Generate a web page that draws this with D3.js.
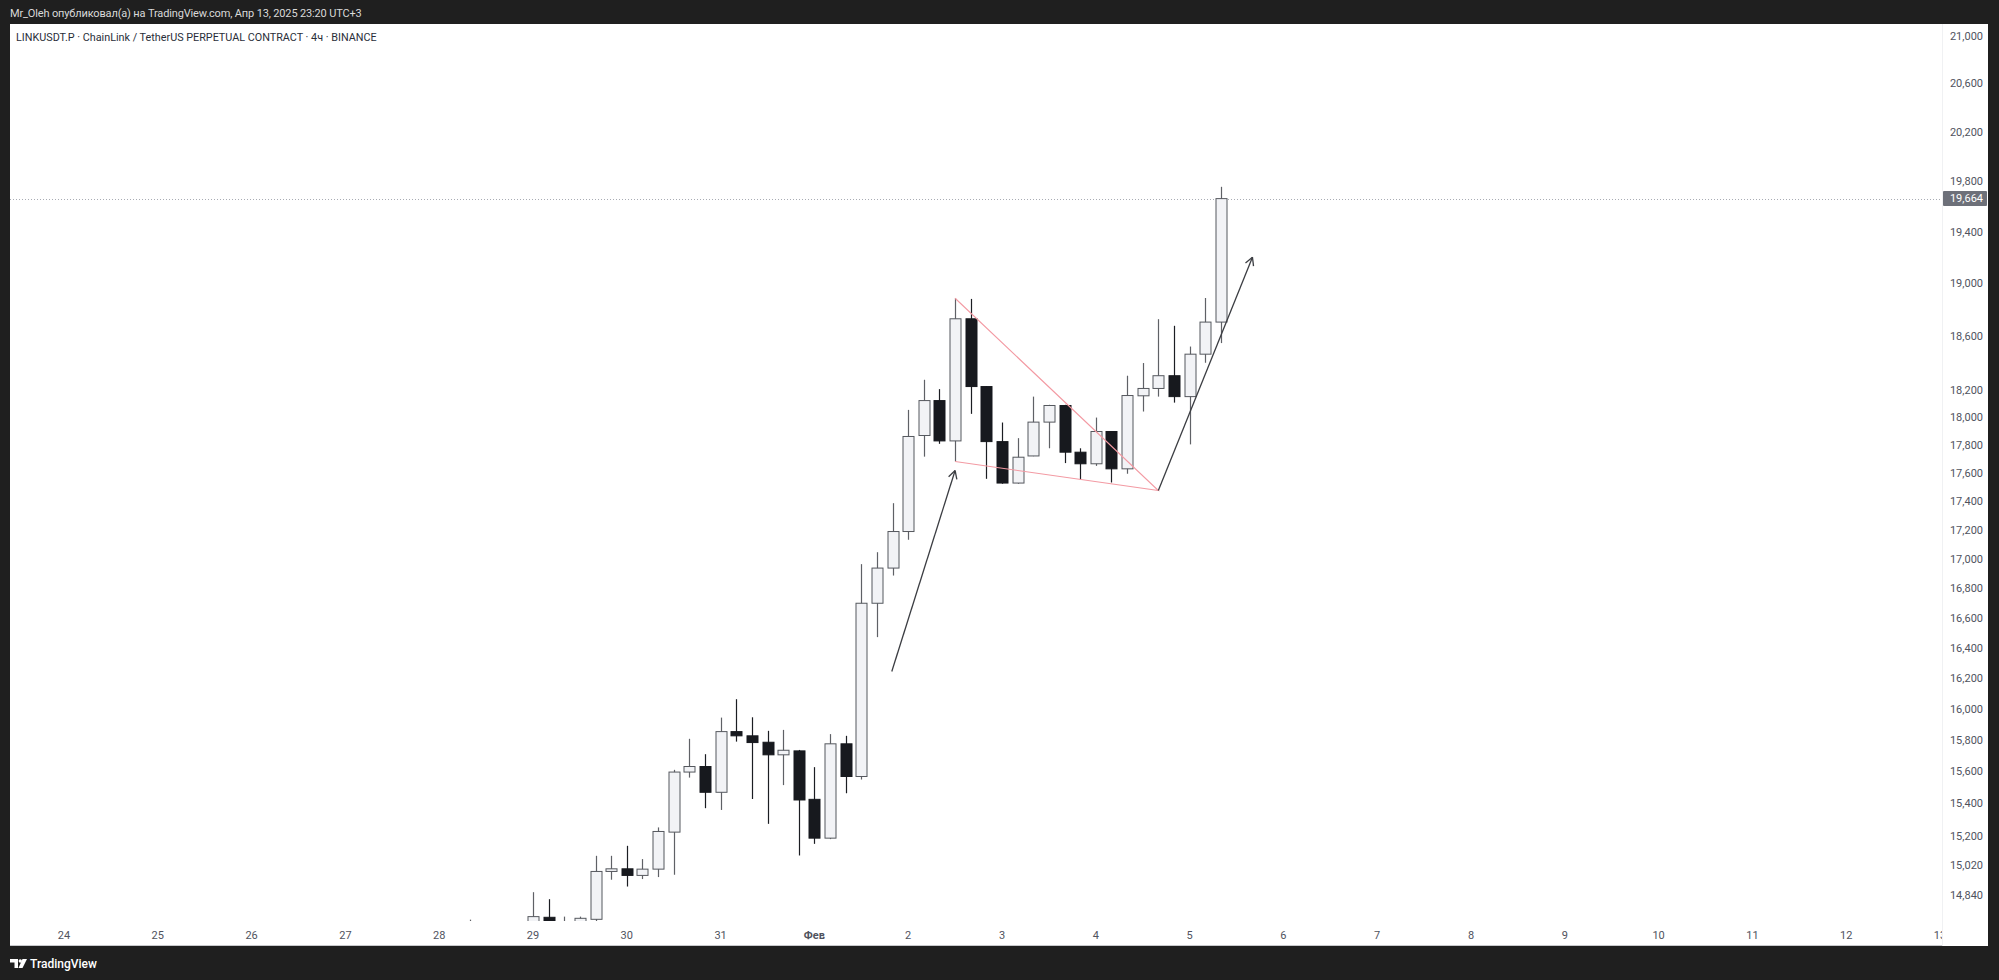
<!DOCTYPE html>
<html><head><meta charset="utf-8">
<script src="https://cdnjs.cloudflare.com/ajax/libs/d3/7.8.5/d3.min.js"></script>
<style>body{margin:0;background:#1f1f1f;} svg{display:block}</style>
</head><body><svg id="c" width="1999" height="980"></svg>
<script>
// ---------- data ----------
const candleTimes = [
 "2025-01-28T00:00","2025-01-28T04:00","2025-01-28T08:00","2025-01-28T12:00","2025-01-28T16:00","2025-01-28T20:00",
 "2025-01-29T00:00","2025-01-29T04:00","2025-01-29T08:00","2025-01-29T12:00","2025-01-29T16:00","2025-01-29T20:00",
 "2025-01-30T00:00","2025-01-30T04:00","2025-01-30T08:00","2025-01-30T12:00","2025-01-30T16:00","2025-01-30T20:00",
 "2025-01-31T00:00","2025-01-31T04:00","2025-01-31T08:00","2025-01-31T12:00","2025-01-31T16:00","2025-01-31T20:00",
 "2025-02-01T00:00","2025-02-01T04:00","2025-02-01T08:00","2025-02-01T12:00","2025-02-01T16:00","2025-02-01T20:00",
 "2025-02-02T00:00","2025-02-02T04:00","2025-02-02T08:00","2025-02-02T12:00","2025-02-02T16:00","2025-02-02T20:00",
 "2025-02-03T00:00","2025-02-03T04:00","2025-02-03T08:00","2025-02-03T12:00","2025-02-03T16:00","2025-02-03T20:00",
 "2025-02-04T00:00","2025-02-04T04:00","2025-02-04T08:00","2025-02-04T12:00","2025-02-04T16:00","2025-02-04T20:00",
 "2025-02-05T00:00","2025-02-05T04:00","2025-02-05T08:00"
];
const openP  = [14.300,14.450,14.400,14.550,14.480,14.580,
 14.640,14.708,14.655,14.670,14.696,14.983,14.999,14.959,14.997,15.223,15.597,15.632,15.470,15.854,15.827,15.786,15.706,15.731,15.426,15.186,15.776,
 15.569,16.698,16.937,17.189,17.869,18.123,17.830,18.732,18.226,17.825,17.529,17.722,17.966,18.087,17.749,17.666,17.898,17.630,18.158,18.212,18.306,18.152,18.466,18.707];
const highP  = [14.500,14.600,14.694,14.660,14.620,14.670,
 14.858,14.816,14.712,14.712,15.078,15.078,15.139,15.058,15.252,15.611,15.808,15.710,15.944,16.063,15.946,15.859,15.865,15.737,15.628,15.838,15.827,
 16.964,17.046,17.387,18.055,18.276,18.207,18.888,18.883,18.230,17.963,17.850,18.152,18.092,18.092,17.777,17.999,17.900,18.306,18.400,18.729,18.679,18.523,18.890,19.758];
const lowP   = [14.200,14.350,14.300,14.400,14.380,14.450,
 14.600,14.620,14.600,14.640,14.680,14.933,14.892,14.937,14.949,14.963,15.562,15.371,15.360,15.790,15.428,15.274,15.515,15.080,15.151,15.180,15.464,
 15.550,16.471,16.886,17.132,17.717,17.809,17.682,18.026,17.559,17.524,17.524,17.720,17.777,17.671,17.552,17.651,17.533,17.595,18.043,18.152,18.108,17.805,18.402,18.549];
const closeP = [14.450,14.400,14.550,14.480,14.580,14.640,
 14.712,14.655,14.670,14.702,14.983,14.999,14.959,14.997,15.227,15.597,15.632,15.470,15.854,15.827,15.784,15.706,15.735,15.422,15.186,15.776,15.569,
 16.698,16.937,17.189,17.862,18.123,17.830,18.732,18.226,17.825,17.529,17.713,17.966,18.087,17.749,17.666,17.898,17.630,18.160,18.212,18.306,18.152,18.466,18.707,19.664];

const priceTicks = [21.000,20.600,20.200,19.800,19.400,19.000,18.600,18.200,18.000,17.800,17.600,17.400,17.200,17.000,16.800,16.600,16.400,16.200,16.000,15.800,15.600,15.400,15.200,15.020,14.840];
const dayTickDates  = ["2025-01-24","2025-01-25","2025-01-26","2025-01-27","2025-01-28","2025-01-29","2025-01-30","2025-01-31","2025-02-01","2025-02-02","2025-02-03","2025-02-04","2025-02-05","2025-02-06","2025-02-07","2025-02-08","2025-02-09","2025-02-10","2025-02-11","2025-02-12","2025-02-13"];
const dayTickLabels = ["24","25","26","27","28","29","30","31","Фев","2","3","4","5","6","7","8","9","10","11","12","13"];
const lastPrice = 19.664;

const arrowOne   = [["2025-02-01T19:48",16.244],["2025-02-02T12:00",17.618]];
const wedgeLines = [["2025-02-02T12:00",18.888],["2025-02-04T16:00",17.476],["2025-02-02T12:00",17.682]];
const arrowTwo   = [["2025-02-04T16:00",17.476],["2025-02-05T16:05",19.204]];

const headerText = "Mr_Oleh опубликовал(а) на TradingView.com, Апр 13, 2025 23:20 UTC+3";
const titleText  = "LINKUSDT.P · ChainLink / TetherUS PERPETUAL CONTRACT · 4ч · BINANCE";

// ---------- layout ----------
const panel = {x0:10, y0:24, x1:1988, y1:946};
const plot  = {x0:10, y0:24, x1:1942, y1:921};
const FONT = "Roboto, 'Noto Sans', sans-serif";

const parseT = d3.utcParse("%Y-%m-%dT%H:%M");
const parseD = d3.utcParse("%Y-%m-%d");
const x = d3.scaleUtc().domain([parseD("2025-01-24"), parseD("2025-02-13")]).range([64, 1940]);
const y = d3.scaleLog().domain([14.686, 21.093]).range([921, 25]);
const fmt = v => d3.format(".3f")(v).replace(".", ",");

const svg = d3.select("#c");
svg.append("rect").attr("width",1999).attr("height",980).attr("fill","#1f1f1f");
svg.append("rect").attr("x",panel.x0).attr("y",panel.y0).attr("width",panel.x1-panel.x0).attr("height",panel.y1-panel.y0).attr("fill","#ffffff");
svg.append("line").attr("x1",plot.x1+0.5).attr("x2",plot.x1+0.5).attr("y1",panel.y0).attr("y2",panel.y1).attr("stroke","#f0f1f3");

const defs = svg.append("defs");
defs.append("clipPath").attr("id","plotClip").append("rect")
  .attr("x",plot.x0).attr("y",plot.y0).attr("width",plot.x1-plot.x0).attr("height",plot.y1-plot.y0);
defs.append("clipPath").attr("id","xClip").append("rect")
  .attr("x",plot.x0).attr("y",plot.y1).attr("width",plot.x1-plot.x0).attr("height",panel.y1-plot.y1);

// header
svg.append("text").attr("x",10).attr("y",13).attr("dy","0.35em").attr("fill","#d9d9d9")
  .attr("font-family",FONT).attr("font-size",11).attr("letter-spacing",-0.15).text(headerText);

const g = svg.append("g").attr("clip-path","url(#plotClip)");

// price line
g.append("line").attr("x1",plot.x0).attr("x2",plot.x1)
  .attr("y1",Math.round(y(lastPrice))+0.5).attr("y2",Math.round(y(lastPrice))+0.5)
  .attr("stroke","#a9acb4").attr("stroke-dasharray","1,2");

// candles
const candles = candleTimes.map((t,i)=>({t:parseT(t),o:openP[i],h:highP[i],l:lowP[i],c:closeP[i]}));
const bw = 11;
candles.forEach(d=>{
  const up = d.c >= d.o;
  const cx = Math.round(x(d.t)) + 0.5;
  const wick = up ? "#5f6166" : "#1b1d22";
  g.append("line").attr("x1",cx).attr("x2",cx).attr("y1",y(d.h)).attr("y2",y(d.l)).attr("stroke",wick).attr("stroke-width",1.2);
  const yt = y(Math.max(d.o,d.c)), yb = y(Math.min(d.o,d.c));
  g.append("rect").attr("x",cx-bw/2).attr("y",yt).attr("width",bw).attr("height",Math.max(1,yb-yt))
    .attr("fill", up ? "#f2f3f6" : "#17191e")
    .attr("stroke", up ? "#55585e" : "#17191e").attr("stroke-width",1);
});

// annotations
const pt = p => [x(parseT(p[0])), y(p[1])];
function arrowLine(pts, color){
  const a = pt(pts[0]), b = pt(pts[1]);
  g.append("line").attr("x1",a[0]).attr("y1",a[1]).attr("x2",b[0]).attr("y2",b[1])
    .attr("stroke",color).attr("stroke-width",1.3);
  const ang = Math.atan2(b[1]-a[1], b[0]-a[0]);
  const L = 9, s = 0.5;
  [ang+Math.PI-s, ang+Math.PI+s].forEach(t=>{
    g.append("line").attr("x1",b[0]).attr("y1",b[1])
      .attr("x2",b[0]+L*Math.cos(t)).attr("y2",b[1]+L*Math.sin(t))
      .attr("stroke",color).attr("stroke-width",1.3);
  });
}
g.append("path").attr("d", d3.line()(wedgeLines.map(pt))).attr("fill","none")
  .attr("stroke","#f39aa3").attr("stroke-width",1.1);
arrowLine(arrowOne, "#3b3d42");
arrowLine(arrowTwo, "#3b3d42");

// title
svg.append("text").attr("x",16).attr("y",37).attr("dy","0.35em").attr("fill","#2a2e39")
  .attr("font-family",FONT).attr("font-size",10.8).text(titleText);

// price axis
const pa = svg.append("g").attr("font-family",FONT).attr("font-size",11);
priceTicks.forEach(v=>{
  pa.append("text").attr("x",1983).attr("y",y(v)).attr("dy","0.35em").attr("text-anchor","end")
    .attr("fill","#50535e").text(fmt(v));
});
const ly = y(lastPrice);
pa.append("rect").attr("x",1943).attr("y",ly-7.5).attr("width",44).attr("height",15).attr("fill","#6d7079").attr("rx",1);
pa.append("text").attr("x",1983).attr("y",ly).attr("dy","0.35em").attr("text-anchor","end").attr("fill","#ffffff").text(fmt(lastPrice));

// time axis
const ta = svg.append("g").attr("clip-path","url(#xClip)").attr("font-family",FONT).attr("font-size",11);
dayTickDates.forEach((d,i)=>{
  ta.append("text").attr("x",x(parseD(d))).attr("y",935).attr("dy","0.35em").attr("text-anchor","middle")
    .attr("fill","#50535e").attr("font-weight", dayTickLabels[i]==="Фев" ? 700 : 400).text(dayTickLabels[i]);
});
svg.append("line").attr("x1",panel.x0).attr("x2",plot.x1).attr("y1",panel.y1-0.5).attr("y2",panel.y1-0.5).attr("stroke","#c8c9cc");

// footer logo
const lg = svg.append("g").attr("fill","#ffffff");
lg.append("path").attr("d","M10 959 h8 v9 h-3.5 v-5.5 h-4.5 z");
lg.append("circle").attr("cx",20.3).attr("cy",961).attr("r",1.7);
lg.append("path").attr("d","M22.5 959 h4.5 l-4.5 9 h-4 z");
lg.append("text").attr("x",30).attr("y",963.5).attr("dy","0.35em").attr("font-family",FONT)
  .attr("font-size",12).attr("font-weight",500).text("TradingView");
</script></body></html>
